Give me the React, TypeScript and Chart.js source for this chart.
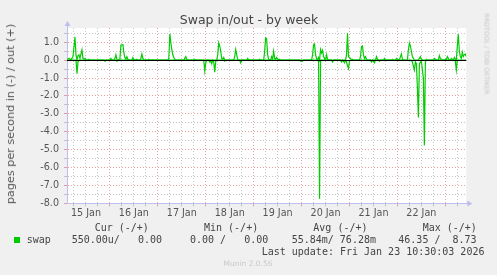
import React, { useEffect, useRef } from 'react';
import { Chart, registerables } from 'chart.js';

Chart.register(...registerables);

// Hours counted from 15 Jan 00:00
const outHours = [
  2.5, 3.5, 4.5, 5.5, 6.5, 7.0, 7.5, 8.0, 8.5, 9.0, 9.5, 10.0, 10.5, 11.0, 11.5, 12.0, 13.0, 13.5, 14.0,
  18.0, 18.5, 19.0,
  24.0, 24.5, 25.0, 26.0, 26.5, 27.0, 27.5, 28.0, 29.0, 29.5, 30.5, 31.0, 31.5, 32.0, 32.5, 33.0, 33.5,
  35.0, 35.5, 36.0, 37.0, 37.5, 38.0, 39.0, 39.5, 40.0, 40.5, 41.0, 43.0, 43.5, 44.0, 45.0, 45.5, 46.0,
  53.0, 53.5, 54.0, 54.5, 55.0, 55.5, 56.0, 56.5, 57.0,
  61.0, 61.5, 62.0, 62.5, 63.0, 66.0, 66.5, 67.0,
  77.5, 78.0, 78.5, 79.0, 79.5, 80.0, 80.5, 81.0, 81.5,
  86.0, 86.5, 87.0, 87.5, 88.0, 88.5, 92.5, 93.0, 93.5, 98.5, 99.0, 99.5,
  101.0, 101.5, 102.0, 102.5, 103.0, 103.5, 104.5, 105.0, 105.5, 106.0, 106.5, 107.0, 107.5, 108.0, 109.0, 109.5,
  125.0, 125.5, 126.0, 126.5, 127.0, 127.5, 128.0, 128.5, 129.0, 129.5, 130.0, 130.5, 131.0, 131.5, 132.0, 132.5, 133.0, 133.5,
  142.0, 142.5, 143.0, 143.5, 144.0, 144.5, 145.0, 145.5, 146.0,
  149.0, 149.5, 150.0, 150.5, 151.0, 151.5, 152.0, 152.5, 153.0,
  157.0, 157.5, 158.0, 158.5, 161.0, 161.5, 162.0, 165.0, 165.5, 166.0, 167.0, 167.5, 168.0, 169.0, 169.5, 170.0, 170.5, 171.0,
  173.0, 173.5, 174.0, 174.5, 175.0, 175.5, 176.0, 176.5,
  178.5, 179.0, 179.5, 180.0, 181.0, 182.0, 182.5, 183.0, 186.0, 186.5, 187.0, 187.5, 188.5, 189.0, 189.5, 190.0, 190.5,
  191.5, 192.0, 192.5, 193.0, 193.5, 194.0, 194.5, 195.0, 195.5, 196.0, 196.5, 197.0, 197.5, 198.0, 198.5, 199.0, 199.5,
  200.0, 200.5, 201.0, 201.5, 202.0, 202.5,
];
const outValues = [
  0.05, 0.1, 0.02, 0.2, 1.3, 0.3, 0.0, 0.25, 0.3, 0.1, 0.35, 0.58, 0.1, 0.05, 0.1, 0.02, 0.0, 0.05, 0.0,
  0.0, 0.03, 0.0,
  0.0, 0.1, 0.02, 0.0, 0.1, 0.3, 0.05, 0.0, 0.05, 0.85, 0.87, 0.4, 0.15, 0.05, 0.2, 0.05, 0.0,
  0.0, 0.15, 0.03, 0.0, 0.05, 0.0, 0.0, 0.1, 0.35, 0.1, 0.0, 0.0, 0.05, 0.0, 0.0, 0.03, 0.0,
  0.0, 0.1, 1.47, 1.0, 0.6, 0.3, 0.15, 0.05, 0.0,
  0.0, 0.1, 0.2, 0.05, 0.0, 0.0, 0.05, 0.0,
  0.0, 0.3, 0.97, 0.8, 0.5, 0.1, 0.05, 0.15, 0.0,
  0.0, 0.2, 0.6, 0.3, 0.05, 0.0, 0.0, 0.1, 0.0, 0.0, 0.05, 0.0,
  0.0, 0.5, 1.25, 1.2, 0.3, 0.05, 0.0, 0.2, 0.05, 0.5, 0.1, 0.05, 0.15, 0.05, 0.05, 0.0,
  0.0, 0.3, 0.85, 0.9, 0.3, 0.1, 0.0, 0.15, 0.0, 0.6, 0.4, 0.55, 0.2, 0.1, 0.0, 0.3, 0.05, 0.0,
  0.0, 0.3, 1.5, 0.2, 0.15, 0.1, 0.0, 0.05, 0.0,
  0.0, 0.2, 0.75, 0.8, 0.3, 0.1, 0.2, 0.05, 0.0,
  0.0, 0.2, 0.05, 0.0, 0.0, 0.1, 0.0, 0.0, 0.05, 0.0, 0.0, 0.1, 0.05, 0.0, 0.2, 0.35, 0.05, 0.0,
  0.0, 0.6, 0.95, 0.8, 0.5, 0.2, 0.1, 0.0,
  0.0, 0.1, 0.2, 0.05, 0.0, 0.0, 0.05, 0.0, 0.0, 0.1, 0.05, 0.0, 0.0, 0.25, 0.1, 0.05, 0.0,
  0.0, 0.05, 0.02, 0.2, 0.1, 0.0, 0.0, 0.1, 0.05, 0.0, 0.15, 0.05, 0.0, 0.8, 1.45, 0.5, 0.2,
  0.1, 0.45, 0.2, 0.3, 0.35, 0.2,
];
const inHours = [
  2.5, 7.0, 7.5, 8.0, 8.5, 21.0, 21.5, 22.0, 27.0, 27.5, 28.0,
  71.0, 71.5, 72.0, 72.5, 73.5, 74.0, 74.5, 75.0, 75.5, 76.0, 76.5, 77.0, 77.5,
  81.0, 81.5, 82.0, 89.0, 89.5, 90.0, 119.0, 119.5, 120.5, 121.0,
  128.5, 129.0, 129.5, 135.0, 135.5, 136.0, 139.5, 140.0, 140.5, 141.5, 142.0, 142.5, 143.0, 143.5, 144.0, 144.5,
  154.5, 155.0, 155.5, 156.5, 157.0, 158.5, 159.0, 159.5,
  175.0, 175.5, 176.5, 177.0, 177.5, 178.0, 178.5, 179.0, 180.0, 181.0, 181.5, 182.0, 182.5,
  196.5, 197.0, 197.5, 198.0, 202.5,
];
const inValues = [
  0, 0, -0.75, -0.1, 0, 0, -0.05, 0, 0, -0.05, 0,
  0, -0.6, -0.15, 0, 0, -0.1, -0.05, -0.2, 0, -0.1, -0.67, -0.05, 0,
  0, -0.05, 0, 0, -0.15, 0, 0, -0.05, -0.05, 0,
  0, -7.75, 0, 0, -0.1, 0, 0, -0.1, 0, -0.15, 0, -0.1, -0.3, -0.47, -0.05, 0,
  0, -0.1, 0, -0.15, 0, 0, -0.05, 0,
  0, -0.1, -0.55, -0.1, -0.2, -1.5, -3.2, -0.2, -0.05, -1.0, -4.77, -0.1, 0,
  0, -0.05, -0.55, 0, 0,
];

const dayLabels = ['15 Jan', '16 Jan', '17 Jan', '18 Jan', '19 Jan', '20 Jan', '21 Jan', '22 Jan'];
const xTickHours = [
  6, 12, 18, 24, 30, 36, 42, 48, 54, 60, 66, 72, 78, 84, 90, 96, 102, 108, 114, 120, 126, 132, 138,
  144, 150, 156, 162, 168, 174, 180, 186, 192, 198,
];
const yTickValues = [
  -8, -7.5, -7, -6.5, -6, -5.5, -5, -4.5, -4, -3.5, -3, -2.5, -2, -1.5, -1, -0.5, 0, 0.5, 1, 1.5,
];

const legendHeaders = ['Cur (-/+)', 'Min (-/+)', 'Avg (-/+)', 'Max (-/+)'];
const legendValues = ['550.00u/   0.00', '0.00 /   0.00', '55.84m/ 76.28m', '46.35 /  8.73'];
const seriesName = 'swap';
const lastUpdate = 'Last update: Fri Jan 23 10:30:03 2026';

const GREEN = '#00cc00';
const RED = 'rgba(225,110,110,0.65)';
const GRAY = 'rgba(160,160,160,0.6)';
const AXIS = 'rgb(190,190,240)';

const decor = {
  id: 'decor',
  beforeDraw(chart: any) {
    const { ctx, chartArea: a } = chart;
    ctx.save();
    ctx.fillStyle = '#ffffff';
    ctx.fillRect(a.left, a.top, a.right - a.left, a.bottom - a.top);
    ctx.restore();
  },
  afterDatasetsDraw(chart: any) {
    const { ctx, chartArea: a } = chart;
    const y0 = chart.scales.y.getPixelForValue(0);
    ctx.save();
    ctx.fillStyle = '#000000';
    ctx.fillRect(a.left, Math.floor(y0), a.right - a.left, 1);
    ctx.restore();
  },
  afterDraw(chart: any) {
    const { ctx, chartArea: a } = chart;
    ctx.save();
    ctx.strokeStyle = AXIS;
    ctx.fillStyle = AXIS;
    ctx.lineWidth = 1;
    const lx = Math.round(a.left) + 0.5;
    const by = Math.round(a.bottom) + 0.5;
    ctx.beginPath();
    ctx.moveTo(lx, a.top);
    ctx.lineTo(lx, a.top - 4);
    ctx.stroke();
    ctx.beginPath();
    ctx.moveTo(lx - 3, a.top - 2);
    ctx.lineTo(lx + 3, a.top - 2);
    ctx.lineTo(lx, a.top - 7);
    ctx.closePath();
    ctx.fill();
    ctx.beginPath();
    ctx.moveTo(a.right, by);
    ctx.lineTo(a.right + 3, by);
    ctx.stroke();
    ctx.beginPath();
    ctx.moveTo(a.right + 1, by - 3);
    ctx.lineTo(a.right + 1, by + 3);
    ctx.lineTo(a.right + 6, by);
    ctx.closePath();
    ctx.fill();
    ctx.restore();
  },
};

function Txt(props: {
  x: number;
  y: number;
  size: number;
  mono?: boolean;
  color?: string;
  center?: boolean;
  children: React.ReactNode;
}) {
  const { x, y, size, mono, color, center, children } = props;
  return (
    <div
      style={{
        position: 'absolute',
        left: x,
        top: y - size / 2,
        fontSize: size,
        lineHeight: `${size}px`,
        whiteSpace: 'pre',
        color: color || '#444',
        fontFamily: mono ? '"DejaVu Sans Mono", monospace' : '"DejaVu Sans", sans-serif',
        transform: center ? 'translateX(-50%)' : undefined,
      }}
    >
      {children}
    </div>
  );
}

export default function App() {
  const ref = useRef<HTMLCanvasElement>(null);

  useEffect(() => {
    const outData = outHours.map((h, i) => ({ x: h, y: outValues[i] }));
    const inData = inHours.map((h, i) => ({ x: h, y: inValues[i] }));
    const chart = new Chart(ref.current as HTMLCanvasElement, {
      type: 'line',
      data: {
        datasets: [
          {
            label: 'swap in',
            data: inData,
            borderColor: GREEN,
            borderWidth: 1.2,
            pointRadius: 0,
            tension: 0,
            fill: false,
          },
          {
            label: 'swap out',
            data: outData,
            borderColor: GREEN,
            borderWidth: 1.2,
            pointRadius: 0,
            tension: 0,
            fill: false,
          },
        ],
      },
      options: {
        responsive: false,
        devicePixelRatio: 1,
        animation: false,
        parsing: false as any,
        layout: { padding: { top: 28, left: 0, right: 30.7, bottom: 55.7 } },
        plugins: { legend: { display: false }, tooltip: { enabled: false }, title: { display: false } },
        scales: {
          x: {
            type: 'linear',
            min: 2.5,
            max: 202.5,
            afterBuildTicks: (s: any) => {
              s.ticks = xTickHours.map((v) => ({ value: v }));
            },
            afterFit: (s: any) => {
              s.height = 16;
            },
            ticks: {
              autoSkip: false,
              maxRotation: 0,
              minRotation: 0,
              padding: 1,
              color: '#555',
              font: { family: 'DejaVu Sans', size: 9.6 },
              callback: (v: any) => {
                const n = Number(v);
                return n % 24 === 12 ? dayLabels[(n - 12) / 24] : '';
              },
            },
            grid: {
              color: (c: any) => (c.tick && c.tick.value % 24 === 0 ? RED : GRAY),
              lineWidth: 1,
              drawTicks: true,
              tickLength: 3,
            },
            border: { color: AXIS, width: 1, dash: [1, 2] },
          },
          y: {
            type: 'linear',
            min: -8,
            max: 1.8,
            afterBuildTicks: (s: any) => {
              s.ticks = yTickValues.map((v) => ({ value: v }));
            },
            afterFit: (s: any) => {
              s.width = 67;
            },
            ticks: {
              autoSkip: false,
              padding: 5,
              color: '#555',
              font: { family: 'DejaVu Sans', size: 9.6 },
              callback: (v: any) => {
                const n = Number(v);
                return Number.isInteger(n) ? n.toFixed(1) : '';
              },
            },
            grid: {
              color: (c: any) => (c.tick && Number.isInteger(c.tick.value) ? RED : GRAY),
              lineWidth: 1,
              drawTicks: true,
              tickLength: 3,
            },
            border: { color: AXIS, width: 1, dash: [1, 2] },
          },
        },
      },
      plugins: [decor],
    } as any);
    return () => chart.destroy();
  }, []);

  const headerX = [94.7, 204, 313.3, 422.7];
  const valueX = [71.7, 190, 291.7, 398.3];

  return (
    <div
      style={{
        position: 'absolute',
        left: 0,
        top: 0,
        width: 497,
        height: 275,
        background: '#f0f0f0',
        overflow: 'hidden',
      }}
    >
      <canvas
        ref={ref}
        width={497}
        height={275}
        style={{ position: 'absolute', left: 0, top: 0, width: 497, height: 275 }}
      />
      <Txt x={249} y={20} size={12.5} center color="#444">
        Swap in/out - by week
      </Txt>
      <div
        style={{
          position: 'absolute',
          left: 11,
          top: 114,
          fontSize: 11.2,
          lineHeight: '12px',
          whiteSpace: 'nowrap',
          color: '#555',
          fontFamily: '"DejaVu Sans", sans-serif',
          transform: 'translate(-50%, -50%) rotate(-90deg)',
        }}
      >
        pages per second in (-) / out (+)
      </div>
      <div
        style={{
          position: 'absolute',
          left: 486.7,
          top: 53.5,
          fontSize: 6.3,
          lineHeight: '7px',
          whiteSpace: 'nowrap',
          color: '#c4c4c4',
          fontFamily: '"DejaVu Sans", sans-serif',
          transform: 'translate(-50%, -50%) rotate(90deg)',
        }}
      >
        RRDTOOL / TOBI OETIKER
      </div>
      {legendHeaders.map((h, i) => (
        <Txt key={h} x={headerX[i]} y={227.7} size={10} mono>
          {h}
        </Txt>
      ))}
      <div
        style={{ position: 'absolute', left: 14, top: 237, width: 6, height: 6, background: GREEN }}
      />
      <Txt x={26.7} y={240} size={10} mono>
        {seriesName}
      </Txt>
      {legendValues.map((v, i) => (
        <Txt key={i} x={valueX[i]} y={240} size={10} mono>
          {v}
        </Txt>
      ))}
      <Txt x={261.7} y={251.7} size={10} mono>
        {lastUpdate}
      </Txt>
      <Txt x={248} y={264} size={7.5} center color="#c8c8c8">
        Munin 2.0.56
      </Txt>
    </div>
  );
}
